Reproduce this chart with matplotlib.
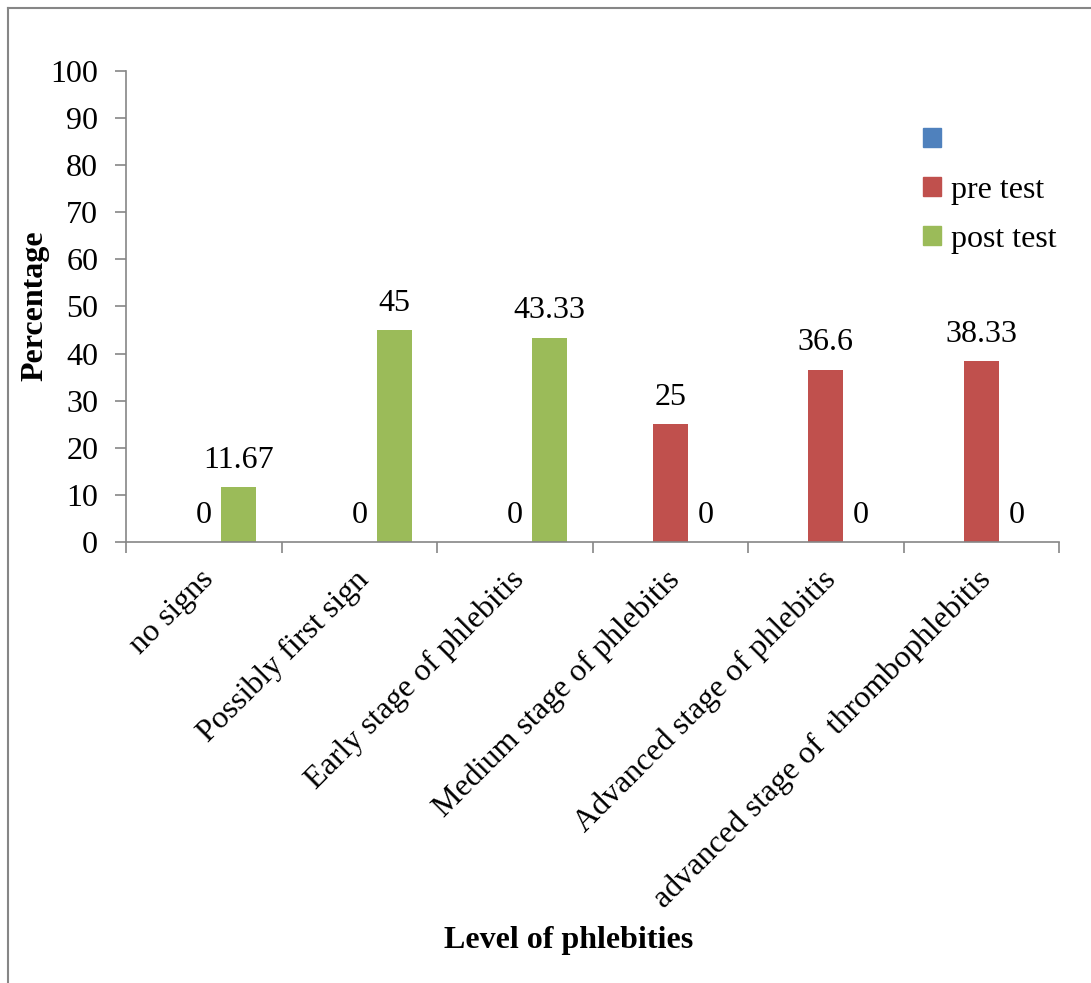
import numpy as np
import matplotlib.pyplot as plt
from matplotlib.patches import Patch
from matplotlib.lines import Line2D

# chart data
categories = ["no signs", "Possibly first sign", "Early stage of phlebitis",
              "Medium stage of phlebitis", "Advanced stage of phlebitis",
              "advanced stage of  thrombophlebitis"]
series_names = ["", "pre test", "post test"]
blank_vals = [0, 0, 0, 0, 0, 0]
pre_test = [0, 0, 0, 25, 36.6, 38.33]
post_test = [11.67, 45, 43.33, 0, 0, 0]
yticks = [0, 10, 20, 30, 40, 50, 60, 70, 80, 90, 100]

colors = ["#4F81BD", "#C0504D", "#9BBB59"]
plt.rcParams['font.family'] = ['Liberation Serif', 'DejaVu Serif']
fs = 23

fig = plt.figure(figsize=(10.91, 9.83), dpi=100)
ax = fig.add_axes([0.1155, 0.4486, 0.8552, 0.4792])

x = np.arange(len(categories))
w = 0.225
ax.bar(x - w, blank_vals, w, color=colors[0])
b_pre = ax.bar(x, pre_test, w, color=colors[1])
b_post = ax.bar(x + w, post_test, w, color=colors[2])

# data labels, formatted as shown on the chart
ax.bar_label(b_pre, labels=[f"{v:g}" for v in pre_test], padding=9, fontsize=fs)
ax.bar_label(b_post, labels=[f"{v:g}" for v in post_test], padding=9, fontsize=fs)

ax.set_xlim(-0.5, len(categories) - 0.5)
ax.set_ylim(0, 100)
ax.set_yticks(yticks)
ax.tick_params(axis='y', labelsize=fs, color="#868686", length=8, width=1.2, pad=12)
ax.set_xticks(np.arange(len(categories) + 1) - 0.5)
ax.set_xticklabels([])
ax.tick_params(axis='x', color="#868686", length=8, width=1.2)
for s in ["top", "right"]:
    ax.spines[s].set_visible(False)
for s in ["left", "bottom"]:
    ax.spines[s].set_color("#868686")
    ax.spines[s].set_linewidth(1.2)

# rotated category labels
for i, c in enumerate(categories):
    ax.annotate(c, xy=(i, 0), xycoords=('data', 'axes fraction'),
                xytext=(4, -24), textcoords='offset points',
                rotation=45, rotation_mode='anchor', ha='right', va='center',
                fontsize=fs)

fig.text(0.032, 0.689, "Percentage", rotation=90, ha='center', va='center',
         fontsize=fs, fontweight='bold')
fig.text(0.521, 0.043, "Level of phlebities", ha='center', va='center',
         fontsize=fs, fontweight='bold')

handles = [Patch(color=c) for c in colors]
ax.legend(handles, series_names, loc='upper left', bbox_to_anchor=(0.82, 0.900),
          bbox_transform=fig.transFigure, frameon=False, fontsize=fs,
          handlelength=0.55, handleheight=0.55, handletextpad=0.3, labelspacing=0.62)

# outer chart border (top and left visible)
fig.add_artist(Line2D([0.0075, 1.0], [0.992, 0.992], transform=fig.transFigure,
                      color="#868686", lw=1.5))
fig.add_artist(Line2D([0.0075, 0.0075], [0.0, 0.992], transform=fig.transFigure,
                      color="#868686", lw=1.5))

fig.savefig("out.png", dpi=100)
